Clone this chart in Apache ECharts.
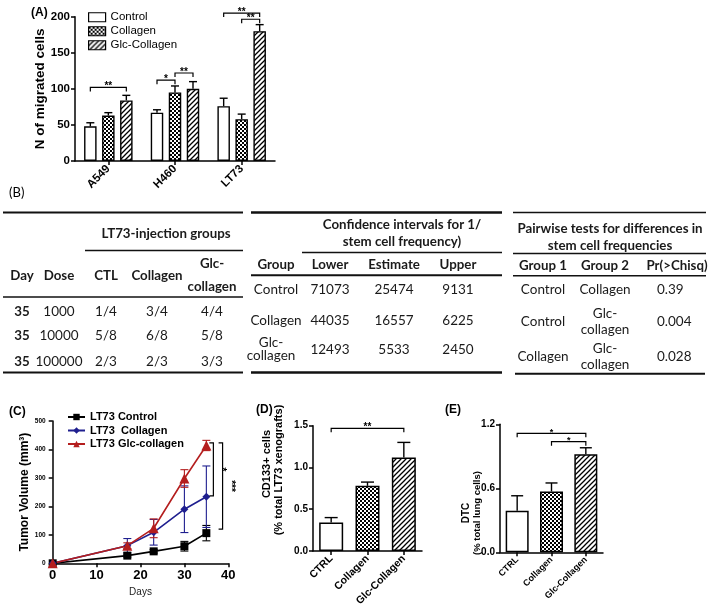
<!DOCTYPE html>
<html><head><meta charset="utf-8">
<script src="https://cdn.jsdelivr.net/npm/echarts@6/dist/echarts.min.js"></script>
<style>html,body{margin:0;padding:0;background:#fff}#c{width:709px;height:612px}</style>
</head><body><div id="c"></div>
<script>
// ================= DATA =================
// (A) migration assay
const migCategories = ['A549', 'H460', 'LT73'];
const migGroups = ['Control', 'Collagen', 'Glc-Collagen'];
const migControl = [48, 67, 76];
const migControlErr = [5, 4, 11];
const migCollagen = [63, 95, 58];
const migCollagenErr = [4, 9, 7];
const migGlc = [84, 100, 180];
const migGlcErr = [7, 10, 9];
const migBrackets = [
  { cat: 0, s1: 0, s2: 2, y: 102, text: '**' },
  { cat: 1, s1: 0, s2: 1, y: 112, text: '*' },
  { cat: 1, s1: 1, s2: 2, y: 122, text: '**' },
  { cat: 2, s1: 0, s2: 2, y: 205, text: '**' },
  { cat: 2, s1: 1, s2: 2, y: 196.5, text: '**' }
];

// (B) tables
const injTitle = 'LT73-injection groups';
const injHeaders = ['Day', 'Dose', 'CTL', 'Collagen', 'Glc-\ncollagen'];
const injRows = [
  ['35', '1000', '1/4', '3/4', '4/4'],
  ['35', '10000', '5/8', '6/8', '5/8'],
  ['35', '100000', '2/3', '2/3', '3/3']
];
const ciTitle = 'Confidence intervals for 1/\nstem cell frequency)';
const ciHeaders = ['Group', 'Lower', 'Estimate', 'Upper'];
const ciRows = [
  ['Control', '71073', '25474', '9131'],
  ['Collagen', '44035', '16557', '6225'],
  ['Glc-\ncollagen', '12493', '5533', '2450']
];
const pwTitle = 'Pairwise tests for differences in\nstem cell frequencies';
const pwHeaders = ['Group 1', 'Group 2', 'Pr(>Chisq)'];
const pwRows = [
  ['Control', 'Collagen', '0.39'],
  ['Control', 'Glc-\ncollagen', '0.004'],
  ['Collagen', 'Glc-\ncollagen', '0.028']
];

// (C) tumor growth
const tumorNames = ['LT73 Control', 'LT73  Collagen', 'LT73 Glc-collagen'];
const tumorDays = [0, 17, 23, 30, 35];
const tumorControl = [0, 27, 42, 60, 106];
const tumorControlErr = [0, 5, 6, 17, 27];
const tumorCollagen = [0, 62, 109, 190, 234];
const tumorCollagenErr = [0, 25, 45, 82, 108];
const tumorGlc = [0, 62, 123, 298, 414];
const tumorGlcErr = [0, 10, 33, 31, 18];
const tumorBrackets = [
  { x: 36.6, y1: 423, y2: 237, text: '*' },
  { x: 38.7, y1: 423, y2: 120, text: '***' }
];

// (D) CD133+ cells, (E) DTC
const cdCategories = ['CTRL', 'Collagen', 'Glc-Collagen'];
const cd133Values = [0.34, 0.78, 1.12];
const cd133Err = [0.06, 0.045, 0.18];
const cd133Brackets = [{ c1: 0, c2: 2, y: 1.468, text: '**' }];
const dtcValues = [0.39, 0.57, 0.92];
const dtcErr = [0.14, 0.08, 0.06];
const dtcBrackets = [
  { c1: 0, c2: 2, y: 1.115, text: '*' },
  { c1: 1, c2: 2, y: 1.037, text: '*' }
];

// ================= STYLE HELPERS =================
const FONT = 'Liberation Sans';
const TFONT = 'Lato';
function checker() {
  const c = document.createElement('canvas'); c.width = 4; c.height = 4;
  const g = c.getContext('2d');
  g.fillStyle = '#fff'; g.fillRect(0, 0, 4, 4);
  g.fillStyle = '#000'; g.fillRect(0, 0, 2, 2); g.fillRect(2, 2, 2, 2);
  return { image: c, repeat: 'repeat' };
}
function hatch() {
  const s = 5; const c = document.createElement('canvas'); c.width = s; c.height = s;
  const g = c.getContext('2d');
  g.fillStyle = '#fff'; g.fillRect(0, 0, s, s);
  g.strokeStyle = '#000'; g.lineWidth = 1.3;
  g.beginPath();
  g.moveTo(-1, s + 1); g.lineTo(s + 1, -1);
  g.moveTo(-1, 1); g.lineTo(1, -1);
  g.moveTo(s - 1, s + 1); g.lineTo(s + 1, s - 1);
  g.stroke();
  return { image: c, repeat: 'repeat' };
}
const fills = ['#ffffff', checker(), hatch()];

const A_BAR_W = 12.5, A_GAP = 0.44;
function aOffset(s) { return (s - 1) * A_BAR_W * (1 + A_GAP); }

function errUpRender(offset, capW) {
  return function (params, api) {
    const c = api.value(0), v = api.value(1), e = api.value(2);
    const p = api.coord([c, v]); const t = api.coord([c, v + e]);
    const x = p[0] + offset;
    const st = { stroke: '#000', lineWidth: 1.4 };
    return { type: 'group', children: [
      { type: 'line', shape: { x1: x, y1: p[1], x2: x, y2: t[1] }, style: st },
      { type: 'line', shape: { x1: x - capW / 2, y1: t[1], x2: x + capW / 2, y2: t[1] }, style: st }
    ] };
  };
}
function errBothRender(color, capW) {
  return function (params, api) {
    const d = api.value(0), v = api.value(1), e = api.value(2);
    if (!e) return null;
    const lo = api.coord([d, v - e]); const hi = api.coord([d, v + e]);
    const x = lo[0];
    const st = { stroke: color, lineWidth: 1.1 };
    return { type: 'group', children: [
      { type: 'line', shape: { x1: x, y1: lo[1], x2: x, y2: hi[1] }, style: st },
      { type: 'line', shape: { x1: x - capW / 2, y1: hi[1], x2: x + capW / 2, y2: hi[1] }, style: st },
      { type: 'line', shape: { x1: x - capW / 2, y1: lo[1], x2: x + capW / 2, y2: lo[1] }, style: st }
    ] };
  };
}
function bracketShape(x1, x2, y, text, fs) {
  return { type: 'group', children: [
    { type: 'polyline', shape: { points: [[x1, y + 4], [x1, y], [x2, y], [x2, y + 4]] }, style: { stroke: '#000', lineWidth: 1.2, fill: null } },
    { type: 'text', x: (x1 + x2) / 2, y: y - 1, style: { text: text, font: 'bold ' + fs + 'px ' + FONT, fill: '#000', align: 'center', verticalAlign: 'middle' } }
  ] };
}

// ================= TABLE (B) =================
function tableGraphics() {
  const els = [];
  const txt = (x, y, t, bold, align, lh) => els.push({ type: 'text', x: x, y: y, style: {
    text: t, font: (bold ? 'bold 13.3px ' : '13.5px ') + TFONT, fill: '#1a1a1a', align: align || 'center', verticalAlign: 'middle', lineHeight: lh || 16 } });
  const hl = (x1, x2, y, w) => els.push({ type: 'line', shape: { x1: x1, y1: y, x2: x2, y2: y }, style: { stroke: '#111', lineWidth: w } });
  // left
  const lc = [22, 59, 106, 157, 212], lrow = [311.7, 335.7, 361.7];
  hl(3, 243, 212.5, 2); hl(85, 243, 250.5, 1.5); hl(3, 243, 297, 1.5); hl(3, 243, 372.5, 2);
  txt(166, 233.5, injTitle, true);
  injHeaders.forEach((h, i) => txt(lc[i], 275.5, h, true, 'center', 23));
  injRows.forEach((r, j) => r.forEach((v, i) => txt(lc[i], lrow[j], v, i === 0)));
  // middle
  const mc = [276, 330, 394, 458], mrow = [289.5, 321, 349.5];
  hl(251, 502, 212.5, 2.5); hl(302, 502, 252.5, 1.5); hl(251, 502, 275.3, 2); hl(251, 502, 372.5, 2.5);
  txt(402, 233.5, ciTitle, true, 'center', 16.7);
  ciHeaders.forEach((h, i) => txt(mc[i], 264.5, h, true));
  ciRows.forEach((r, j) => r.forEach((v, i) => txt(mc[i] - (j === 2 && i === 0 ? 5 : 0), mrow[j], v, false, 'center', 13)));
  // right
  const rc = [543, 605, 677], rrow = [290, 321.7, 356.5];
  hl(513, 706, 212.5, 1.5); hl(513, 706, 253.5, 1.5); hl(513, 706, 275.8, 1.5); hl(515, 705, 373.8, 2);
  txt(610, 237.5, pwTitle, true, 'center', 16.7);
  pwHeaders.forEach((h, i) => txt(rc[i], 265.8, h, true));
  pwRows.forEach((r, j) => r.forEach((v, i) => i === 2 ? txt(657, rrow[j], v, false, 'left') : txt(rc[i], rrow[j], v)));
  return els;
}

// ================= CHART =================
const axisBlack = { lineStyle: { color: '#000', width: 1.5 } };
const tickBlack = { show: true, length: 4, lineStyle: { color: '#000', width: 1.5 } };
function catAxis(grid, data, fs) {
  return { gridIndex: grid, type: 'category', data: data, axisLine: axisBlack,
    axisTick: Object.assign({ alignWithLabel: true }, tickBlack),
    axisLabel: { rotate: 45, color: '#000', fontWeight: 'bold', fontSize: fs, fontFamily: FONT, margin: 6 } };
}
function valAxis(grid, max, interval, fs, extra) {
  return Object.assign({ gridIndex: grid, type: 'value', min: 0, max: max, interval: interval,
    axisLine: { show: true, lineStyle: { color: '#000', width: 1.5 } }, axisTick: tickBlack,
    splitLine: { show: false },
    axisLabel: { color: '#000', fontWeight: 'bold', fontSize: fs, fontFamily: FONT, margin: 5 } }, extra || {});
}

const series = [];
// A bars
[migControl, migCollagen, migGlc].forEach((vals, s) => {
  series.push({ type: 'bar', name: migGroups[s], xAxisIndex: 0, yAxisIndex: 0, data: vals,
    barWidth: A_BAR_W, barGap: (A_GAP * 100) + '%',
    itemStyle: { color: fills[s], borderColor: '#000', borderWidth: 1.4 } });
});
[[migControl, migControlErr], [migCollagen, migCollagenErr], [migGlc, migGlcErr]].forEach((pair, s) => {
  series.push({ type: 'custom', xAxisIndex: 0, yAxisIndex: 0, z: 5, silent: true,
    data: pair[0].map((v, i) => [i, v, pair[1][i]]), renderItem: errUpRender(aOffset(s), 8) });
});
series.push({ type: 'custom', xAxisIndex: 0, yAxisIndex: 0, z: 5, silent: true, clip: false,
  data: migBrackets.map(b => [b.cat, b.y]),
  renderItem: function (params, api) {
    const b = migBrackets[params.dataIndex]; const p = api.coord([b.cat, b.y]);
    return bracketShape(p[0] + aOffset(b.s1), p[0] + aOffset(b.s2), p[1], b.text, 10);
  } });

// C lines
const tumorColors = ['#000000', '#1f1f8f', '#b41e1e'];
const tumorSymbols = ['rect', 'diamond', 'triangle'];
const tumorSizes = [8, 8, 10];
[[tumorControl, tumorControlErr], [tumorCollagen, tumorCollagenErr], [tumorGlc, tumorGlcErr]].forEach((pair, s) => {
  series.push({ type: 'custom', xAxisIndex: 1, yAxisIndex: 1, silent: true, z: 2,
    data: pair[0].map((v, i) => [tumorDays[i], v, pair[1][i]]), renderItem: errBothRender(tumorColors[s], 8) });
  series.push({ type: 'line', name: tumorNames[s], xAxisIndex: 1, yAxisIndex: 1, z: 3,
    data: pair[0].map((v, i) => [tumorDays[i], v]),
    symbol: tumorSymbols[s], symbolSize: tumorSizes[s],
    lineStyle: { color: tumorColors[s], width: 1.6 }, itemStyle: { color: tumorColors[s] } });
});
series.push({ type: 'custom', xAxisIndex: 1, yAxisIndex: 1, silent: true, clip: false, z: 4,
  data: tumorBrackets.map(b => [b.x, b.y1]),
  renderItem: function (params, api) {
    const b = tumorBrackets[params.dataIndex];
    const p1 = api.coord([b.x, b.y1]); const p2 = api.coord([b.x, b.y2]);
    const x = p1[0];
    return { type: 'group', children: [
      { type: 'polyline', shape: { points: [[x - 4, p1[1]], [x, p1[1]], [x, p2[1]], [x - 4, p2[1]]] }, style: { stroke: '#000', lineWidth: 1.2, fill: null } },
      { type: 'text', x: x + 8, y: (p1[1] + p2[1]) / 2, rotation: -Math.PI / 2,
        style: { text: b.text, font: 'bold 10px ' + FONT, fill: '#000', align: 'center', verticalAlign: 'middle' } }
    ] };
  } });

// D & E bars
function singleBars(xi, vals, errs, brackets, bw, cap, fs) {
  series.push({ type: 'bar', xAxisIndex: xi, yAxisIndex: xi, barWidth: bw,
    data: vals.map((v, i) => ({ value: v, itemStyle: { color: fills[i], borderColor: '#000', borderWidth: 1.5 } })) });
  series.push({ type: 'custom', xAxisIndex: xi, yAxisIndex: xi, z: 5, silent: true,
    data: vals.map((v, i) => [i, v, errs[i]]), renderItem: errUpRender(0, cap) });
  series.push({ type: 'custom', xAxisIndex: xi, yAxisIndex: xi, z: 5, silent: true, clip: false,
    data: brackets.map(b => [b.c1, b.y]),
    renderItem: function (params, api) {
      const b = brackets[params.dataIndex];
      const p1 = api.coord([b.c1, b.y]); const p2 = api.coord([b.c2, b.y]);
      return bracketShape(p1[0], p2[0], p1[1], b.text, fs);
    } });
}
singleBars(2, cd133Values, cd133Err, cd133Brackets, 24, 13, 10);
singleBars(3, dtcValues, dtcErr, dtcBrackets, 23, 12, 9);

const panelLabel = (x, y, t, bold, fs, fam) => ({ type: 'text', x: x, y: y, style: { text: t, font: (bold ? 'bold ' : '') + fs + 'px ' + (fam || FONT), fill: '#000', align: 'left', verticalAlign: 'middle' } });
const vText = (x, y, t, fs) => ({ type: 'text', x: x, y: y, rotation: Math.PI / 2, style: { text: t, font: 'bold ' + fs + 'px ' + FONT, fill: '#000', align: 'center', verticalAlign: 'middle' } });

const option = {
  animation: false,
  backgroundColor: '#fff',
  textStyle: { fontFamily: FONT },
  grid: [
    { left: 75, top: 16.7, width: 200, height: 144.3 },
    { left: 52.7, top: 421, width: 175.6, height: 142.3 },
    { left: 313, top: 425.7, width: 109, height: 125.3 },
    { left: 500, top: 424.3, width: 103, height: 128 }
  ],
  xAxis: [
    catAxis(0, migCategories, 11.5),
    valAxis(1, 40, 10, 13, { offset: 1, name: 'Days', nameLocation: 'middle', nameGap: 23,
      nameTextStyle: { color: '#222', fontSize: 10, fontFamily: FONT } }),
    catAxis(2, cdCategories, 10.5),
    catAxis(3, cdCategories, 9)
  ],
  yAxis: [
    valAxis(0, 200, 50, 11.5, { name: 'N of migrated cells', nameLocation: 'middle', nameGap: 25, nameRotate: 90,
      nameTextStyle: { color: '#000', fontWeight: 'bold', fontSize: 13.5, fontFamily: FONT } }),
    valAxis(1, 500, 100, 6.5, { offset: 2, name: 'Tumor Volume (mm³)', nameLocation: 'middle', nameGap: 19, nameRotate: 90,
      nameTextStyle: { color: '#000', fontWeight: 'bold', fontSize: 12, fontFamily: FONT } }),
    valAxis(2, 1.5, 0.5, 10, { axisLabel: { color: '#000', fontWeight: 'bold', fontSize: 10, fontFamily: FONT, margin: 5, formatter: v => v.toFixed(1) } }),
    valAxis(3, 1.2, 0.6, 10, { axisLabel: { color: '#000', fontWeight: 'bold', fontSize: 10, fontFamily: FONT, margin: 5, formatter: v => v.toFixed(1) } })
  ],
  legend: [
    { data: migGroups, orient: 'vertical', left: 88, top: 10.5, padding: 0, itemWidth: 17, itemHeight: 9, itemGap: 0.5,
      icon: 'rect', itemStyle: { borderColor: '#000', borderWidth: 1.2 },
      textStyle: { fontSize: 11.5, color: '#000', fontFamily: FONT, lineHeight: 13.5 } },
    { data: tumorNames, orient: 'vertical', left: 67, top: 410.5, padding: 0, itemWidth: 17, itemHeight: 8, itemGap: 0.5,
      textStyle: { fontSize: 11, fontWeight: 'bold', color: '#000', fontFamily: FONT, lineHeight: 13 } }
  ],
  graphic: [
    panelLabel(31, 13, '(A)', true, 12),
    panelLabel(9, 193, '(B)', false, 13, TFONT),
    panelLabel(9, 412, '(C)', true, 12),
    panelLabel(256, 410, '(D)', true, 12),
    panelLabel(445, 410, '(E)', true, 12),
    vText(267, 464, 'CD133+ cells', 11),
    vText(279, 470, '(% total LT73 xenografts)', 11),
    vText(466, 513, 'DTC', 10),
    vText(477, 513, '(% total lung cells)', 9.5)
  ].concat(tableGraphics()),
  series: series
};
const chart = echarts.init(document.getElementById('c'), null, { renderer: 'canvas' });
chart.setOption(option);
</script>
</body></html>
